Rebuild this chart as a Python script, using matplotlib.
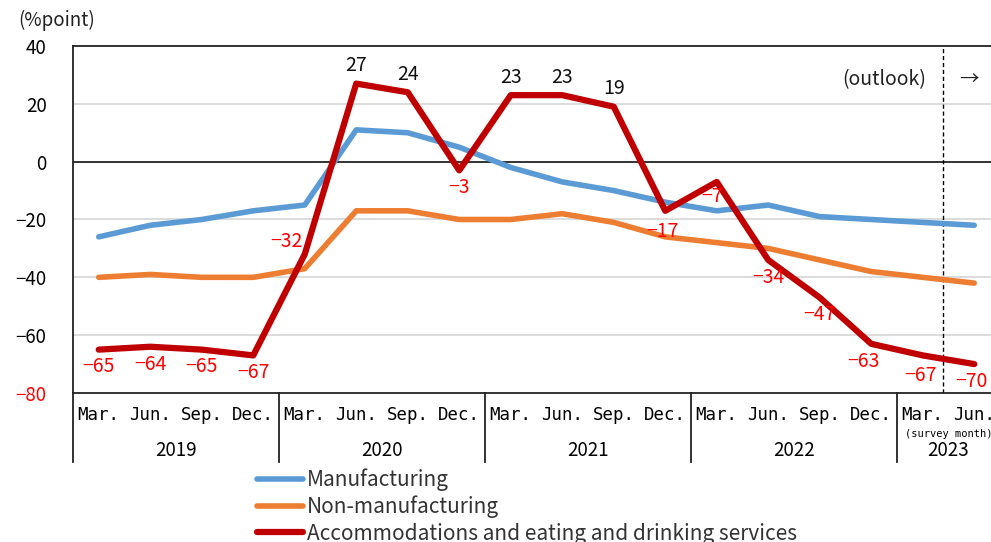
import numpy as np
import matplotlib
matplotlib.use('Agg')
import matplotlib.pyplot as plt

plt.rcParams['font.family'] = ['Noto Sans CJK JP', 'DejaVu Sans']

# quarterly survey months, 2019 Mar. .. 2023 Jun.
months = ['Mar.', 'Jun.', 'Sep.', 'Dec.'] * 4 + ['Mar.', 'Jun.']
years = ['2019', '2020', '2021', '2022', '2023']

manufacturing = [-26, -22, -20, -17, -15, 11, 10, 5, -2, -7, -10, -14,
                 -17, -15, -19, -20, -21, -22]
non_manufacturing = [-40, -39, -40, -40, -37, -17, -17, -20, -20, -18, -21, -26,
                     -28, -30, -34, -38, -40, -42]
accommodations = [-65, -64, -65, -67, -32, 27, 24, -3, 23, 23, 19, -17,
                  -7, -34, -47, -63, -67, -70]

c_blue = '#5B9BD5'
c_orange = '#ED7D31'
c_red = '#C00000'

x = np.arange(len(months))

fig = plt.figure(figsize=(9.91, 5.42), dpi=100)
ax = fig.add_axes([73 / 991, 1 - 393 / 542, 927 / 991, 347 / 542])

ax.set_xlim(-0.5, 17.5)
ax.set_ylim(-80, 40)

for v in [20, -20, -40, -60]:
    ax.axhline(v, color='#d9d9d9', lw=1.3, zorder=0)
ax.axhline(0, color='#222222', lw=1.3, zorder=1)

l1, = ax.plot(x, manufacturing, color=c_blue, lw=4, solid_capstyle='round', zorder=3)
l2, = ax.plot(x, non_manufacturing, color=c_orange, lw=4, solid_capstyle='round', zorder=3)
l3, = ax.plot(x, accommodations, color=c_red, lw=4.5, solid_capstyle='round', zorder=4)

# value labels on the accommodations line
offsets = {4: (-0.35, 4.5), 11: (-0.05, -7), 12: (-0.1, -5), 15: (-0.15, -6),
           16: (-0.05, -7), 17: (-0.05, -6)}
for i, v in enumerate(accommodations):
    if v >= 0:
        ax.text(x[i], v + 2.5, str(v), ha='center', va='bottom', fontsize=14,
                color='#111111')
    else:
        dx, dy = offsets.get(i, (0, -6))
        ax.text(x[i] + dx, v + dy, '\u2212' + str(-v), ha='center', va='center',
                fontsize=14, color='#ff0000', zorder=5)

# outlook marker
ax.axvline(16.4, color='black', lw=1, ls=(0, (3, 2)), zorder=2)
ax.text(15.25, 28.5, '(outlook)', ha='center', va='center', fontsize=14,
        color='#222222')
ax.text(16.9, 28.5, '\u2192', ha='center', va='center', fontsize=14,
        color='#222222')

# frame
for s in ['top', 'left', 'bottom']:
    ax.spines[s].set_color('#222222')
    ax.spines[s].set_linewidth(1.3)
ax.spines['right'].set_visible(False)

ax.set_yticks([40, 20, 0, -20, -40, -60, -80])
ax.set_yticklabels(['40', '20', '0', '\u221220', '\u221240', '\u221260', '\u221280'],
                   fontsize=13.5)
ax.get_yticklabels()[-1].set_color('#ff0000')
ax.tick_params(axis='y', length=0, pad=19)
ax.set_xticks([])

fig.text(18 / 991, 1 - 20 / 542, '(%point)', fontsize=13.5, va='center', ha='left',
         color='#222222')

# two-level category axis
trans = ax.get_xaxis_transform()
for i, m in enumerate(months):
    ax.text(x[i], -0.063, m, transform=trans, ha='center', va='center',
            fontsize=12.5, family='DejaVu Sans Mono', clip_on=False)
year_centers = [1.5, 5.5, 9.5, 13.5, 16.5]
for xc, yr in zip(year_centers, years):
    ax.text(xc, -0.165, yr, transform=trans, ha='center', va='center',
            fontsize=13.5, clip_on=False)
for b in [-0.5, 3.5, 7.5, 11.5, 15.5]:
    ax.plot([b, b], [0, -0.199], transform=trans, color='#222222', lw=1.3,
            clip_on=False)
ax.text(16.5, -0.117, '(survey month)', transform=trans, ha='center',
        va='center', fontsize=7.5, family='DejaVu Sans Mono', clip_on=False)

leg = fig.legend([l1, l2, l3],
                 ['Manufacturing', 'Non-manufacturing',
                  'Accommodations and eating and drinking services'],
                 loc='upper left', bbox_to_anchor=(249 / 991, 1 - 460 / 542),
                 frameon=False, fontsize=15, handlelength=2.2, handletextpad=0.2,
                 labelspacing=0.22, borderaxespad=0)
for t in leg.get_texts():
    t.set_color('#333333')

fig.savefig('out.png', dpi=100)
